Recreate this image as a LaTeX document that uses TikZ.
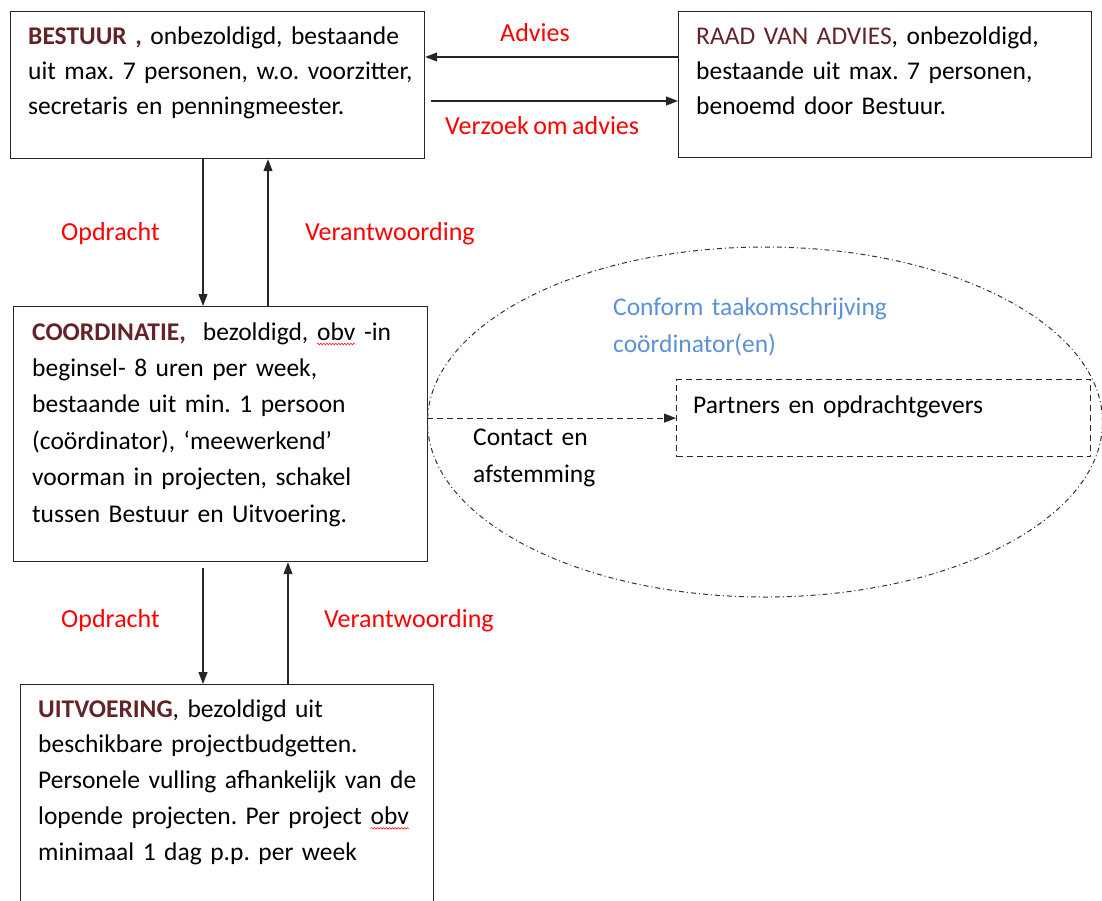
\documentclass[tikz,border=0pt]{standalone}
\usepackage{fontspec}
\setmainfont{Carlito}
\usetikzlibrary{arrows.meta,shapes.geometric,decorations.pathmorphing}
\definecolor{titlered}{RGB}{99,36,40}
\definecolor{lblred}{RGB}{255,0,0}
\definecolor{lblblue}{RGB}{90,145,215}
\newcommand\spellmark[1]{\tikz[baseline=(sw.base)]{\node[inner sep=0pt,outer sep=0pt,text width={},anchor=base](sw){#1};\draw[red,line width=0.5pt,decorate,decoration={zigzag,amplitude=0.9pt,segment length=3pt}]([yshift=-4pt]sw.base west)--([yshift=-4pt]sw.base east);}}
\newcommand\fs[1]{\fontsize{25.5}{#1}\selectfont\frenchspacing\spaceskip 0.17em\relax}
\newcommand\lblfont{\fontsize{26}{30}\selectfont\spaceskip 0.17em\relax}
\begin{document}
\begin{tikzpicture}[x=1pt,y=-1pt,
  box/.style={draw=black!85,line width=1.2pt,inner sep=0pt,anchor=north west},
  dbox/.style={draw=black!85,line width=1.2pt,dash pattern=on 6pt off 4pt,inner sep=0pt,anchor=north west},
  txt/.style={inner sep=0pt,anchor=base west,text width=#1,font=\fs{36}},
  lbl/.style={inner sep=0pt,anchor=base west,text=lblred,font=\lblfont},
  arr/.style={draw=black!85,line width=1.1pt,-{Triangle[length=12pt,width=9pt]}},
  darr/.style={draw=black!85,line width=1.2pt,dash pattern=on 6pt off 4pt,-{Triangle[length=12pt,width=9pt]}},
  oval/.style={ellipse,draw=black!80,line width=1pt,dash pattern=on 5pt off 3pt on 1pt off 3pt,inner sep=0pt}]
\useasboundingbox (0,0) rectangle (1102,900);
% boxes
\node[box,minimum width=414pt,minimum height=147pt] (bestuur) at (10,11) {};
\node[box,minimum width=413pt,minimum height=146pt] (raad) at (678,11) {};
\node[box,minimum width=414pt,minimum height=255pt] (coord) at (13,306) {};
\node[box,minimum width=413pt,minimum height=240pt] (uitv) at (20,684) {};
\node[oval,minimum width=675pt,minimum height=350pt] (ell) at (765,422) {};
\node[dbox,minimum width=414pt,minimum height=77pt] (partners) at (676,379) {};
% box texts
\node[txt=400pt,font=\fs{35}] (tb) at (28,44) {\textcolor{titlered}{\textbf{BESTUUR ,}} onbezoldigd, bestaande\\uit max. 7 personen, w.o. voorzitter,\\secretaris en penningmeester.};
\node[txt=400pt,font=\fs{35}] (tr) at (696,44) {\textcolor{titlered}{RAAD VAN ADVIES}, onbezoldigd,\\bestaande uit max. 7 personen,\\benoemd door Bestuur.};
\node[txt=400pt,font=\fs{36.4}] (tc) at (32,340) {\textcolor{titlered}{\textbf{COORDINATIE,}}\ \ bezoldigd, \spellmark{obv} -in\\beginsel- 8 uren per week,\\bestaande uit min. 1 persoon\\(coördinator), ‘meewerkend’\\voorman in projecten, schakel\\tussen Bestuur en Uitvoering.};
\node[txt=400pt,font=\fs{35.8}] (tu) at (38,717) {\textcolor{titlered}{\textbf{UITVOERING}}, bezoldigd uit\\beschikbare projectbudgetten.\\Personele vulling afhankelijk van de\\lopende projecten. Per project \spellmark{obv}\\minimaal 1 dag p.p. per week};
\node[txt=390pt] (tp) at (693,413) {Partners en opdrachtgevers};
\node[txt=200pt,font=\fs{37}] (tca) at (473,445) {Contact en\\afstemming};
\node[txt=350pt,text=lblblue,font=\fs{37}] (tco) at (613,315) {Conform taakomschrijving\\coördinator(en)};
% labels
\node[lbl] (ladv) at (500,41) {Advies};
\node[lbl] (lver) at (445,134) {Verzoek om advies};
\node[lbl] (lop1) at (61,240) {Opdracht};
\node[lbl] (lvw1) at (305,240) {Verantwoording};
\node[lbl] (lop2) at (61,627) {Opdracht};
\node[lbl] (lvw2) at (324,627) {Verantwoording};
% connectors
\draw[arr] ([yshift=-46pt]raad.north west) -- ([yshift=-46pt]bestuur.north east);
\draw[arr] ([shift={(6,90)}]bestuur.north east) -- ([yshift=-90pt]raad.north west);
\draw[arr] ([xshift=193pt]bestuur.south west) -- ([xshift=190pt]coord.north west);
\draw[arr] ([xshift=255pt]coord.north west) -- ([xshift=258pt]bestuur.south west);
\draw[arr] ([shift={(190,6)}]coord.south west) -- ([xshift=183pt]uitv.north west);
\draw[arr] ([xshift=268pt]uitv.north west) -- ([xshift=275pt]coord.south west);
\draw[darr] (ell.west |- partners.west) -- (partners.west);
\end{tikzpicture}
\end{document}
